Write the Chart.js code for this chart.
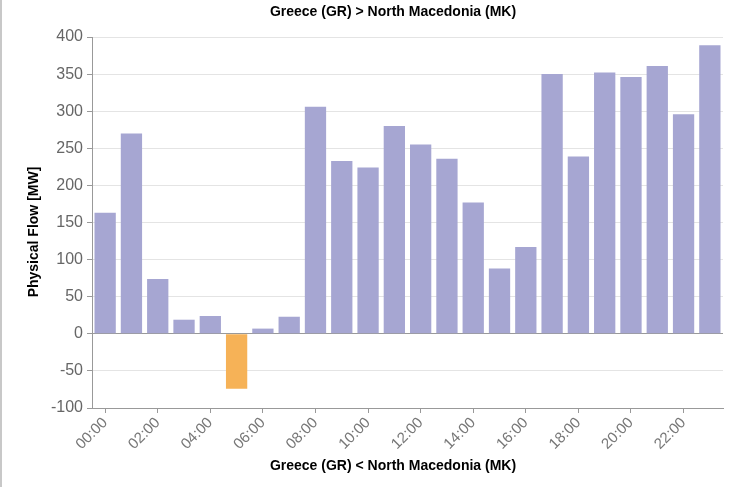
<!DOCTYPE html>
<html>
<head>
<meta charset="utf-8">
<script src="https://cdn.jsdelivr.net/npm/chart.js@4/dist/chart.umd.min.js"></script>
<style>
html,body{margin:0;padding:0;background:#fff;}
#wrap{position:relative;width:736px;height:487px;border-left:2px solid #c8c8c8;}
canvas{display:block;}
</style>
</head>
<body>
<div id="wrap"><canvas id="c" width="736" height="487"></canvas></div>
<script>
const hours = ["00:00","01:00","02:00","03:00","04:00","05:00","06:00","07:00","08:00","09:00","10:00","11:00","12:00","13:00","14:00","15:00","16:00","17:00","18:00","19:00","20:00","21:00","22:00","23:00"];
const flowMW = [163, 270, 74, 19, 24, -74, 7, 23, 306, 233, 224, 280, 255, 236, 177, 88, 117, 350, 239, 352, 346, 361, 296, 389];
const yTicks = [-100, -50, 0, 50, 100, 150, 200, 250, 300, 350, 400];
const titleTop = "Greece (GR) > North Macedonia (MK)";
const titleBottom = "Greece (GR) < North Macedonia (MK)";
const yTitle = "Physical Flow [MW]";

const posColor = "#a6a6d2";
const negColor = "#f6b257";
const FONT = "'Liberation Sans', Arial, sans-serif";

const titlesPlugin = {
  id: 'titles',
  afterDraw(chart) {
    const ctx = chart.ctx;
    ctx.save();
    ctx.fillStyle = '#000';
    ctx.font = "bold 14px " + FONT;
    ctx.textAlign = 'center';
    ctx.textBaseline = 'middle';
    ctx.fillText(titleTop, 391, 12);
    ctx.fillText(titleBottom, 391, 466);
    ctx.translate(32, 232);
    ctx.rotate(-Math.PI / 2);
    ctx.fillText(yTitle, 0, 0);
    ctx.restore();
  }
};

new Chart(document.getElementById('c'), {
  type: 'bar',
  data: {
    labels: hours,
    datasets: [{
      data: flowMW,
      backgroundColor: flowMW.map(v => v < 0 ? negColor : posColor),
      borderWidth: 0,
      categoryPercentage: 1.0,
      barPercentage: 0.81
    }]
  },
  plugins: [titlesPlugin],
  options: {
    responsive: false,
    animation: false,
    devicePixelRatio: 1,
    layout: { padding: { left: 0, right: 15, top: 37, bottom: 0 } },
    plugins: {
      legend: { display: false },
      tooltip: { enabled: false },
      title: { display: false }
    },
    scales: {
      x: {
        type: 'category',
        offset: true,
        grid: {
          display: true,
          drawOnChartArea: false,
          drawTicks: true,
          tickLength: 5,
          offset: false,
          color: '#999'
        },
        border: { display: true, color: '#999', width: 1 },
        ticks: {
          autoSkip: false,
          maxRotation: 45,
          minRotation: 45,
          color: '#777',
          font: { family: FONT, size: 15 },
          padding: 1,
          callback: function(val, idx) { return idx % 2 === 0 ? hours[idx] : null; }
        },
        afterFit: function(s) { s.height = 79; }
      },
      y: {
        min: -100,
        max: 400,
        afterBuildTicks: function(s) { s.ticks = yTicks.map(v => ({ value: v })); },
        grid: {
          color: function(ctx) { return (ctx.tick && ctx.tick.value === 0) ? '#999' : '#e4e4e4'; },
          tickColor: '#999',
          tickLength: 5,
          drawTicks: true
        },
        border: { display: true, color: '#999', width: 1 },
        ticks: {
          color: '#666',
          font: { family: FONT, size: 16 },
          padding: 4
        },
        afterFit: function(s) { s.width = 90; }
      }
    }
  }
});
</script>
</body>
</html>
